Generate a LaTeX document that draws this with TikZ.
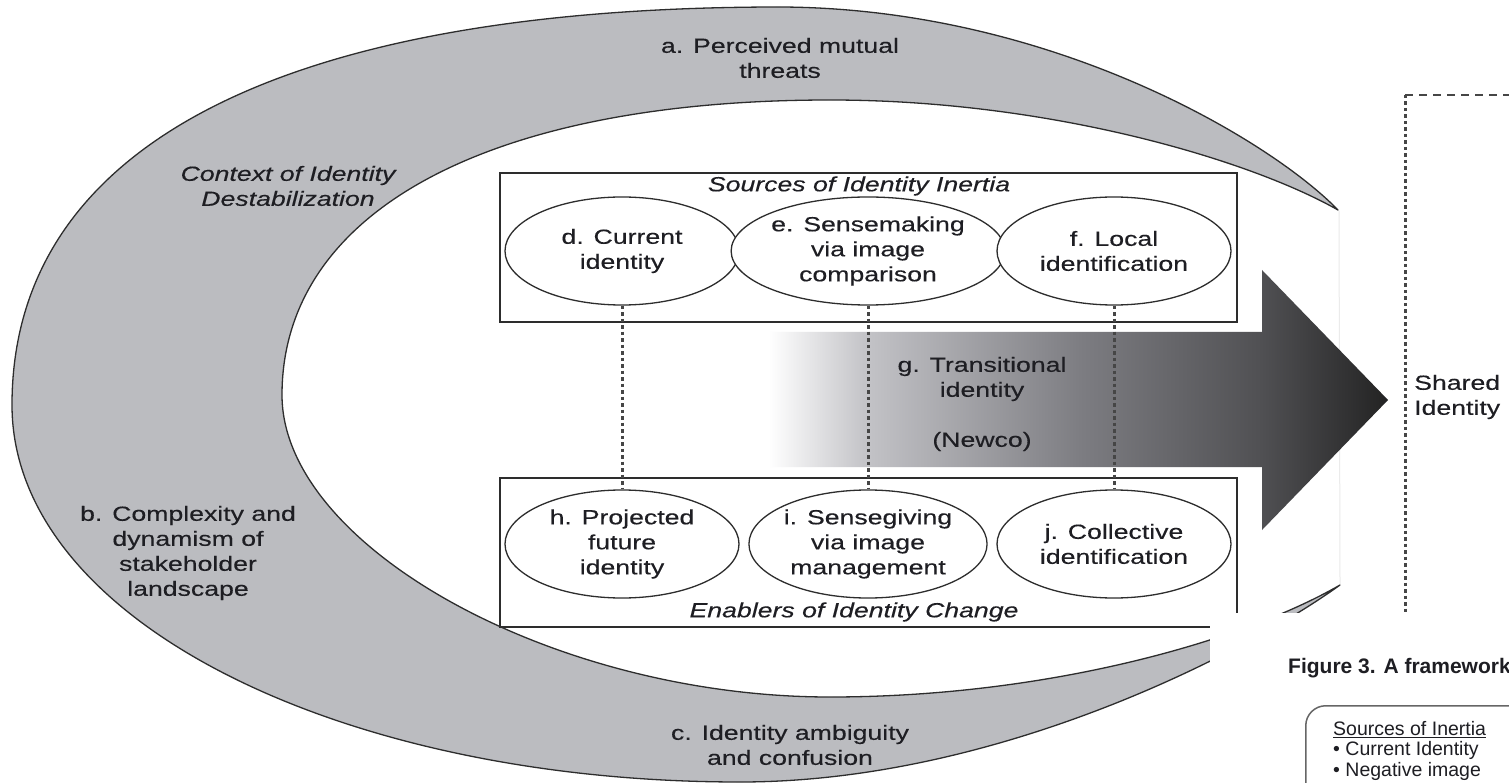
\documentclass[tikz,border=0pt]{standalone}
\usepackage{fontspec}
\setmainfont{Liberation Sans}[FakeStretch=1.3,FakeBold=0.3]
\newfontfamily\capfont{Liberation Sans}
\usetikzlibrary{shapes.geometric}
\definecolor{bandgray}{RGB}{187,188,192}
\definecolor{linec}{RGB}{45,45,45}
\definecolor{txt}{RGB}{30,30,35}
\definecolor{dotc}{RGB}{70,70,70}
\definecolor{agA}{RGB}{196,196,200}
\definecolor{agB}{RGB}{125,125,130}
\definecolor{agC}{RGB}{80,80,83}
\definecolor{agD}{RGB}{35,35,35}
\pgfdeclarehorizontalshading{arrowsh}{100bp}{color(0bp)=(white); color(30bp)=(white); color(36.9bp)=(agA); color(52.6bp)=(agB); color(65.8bp)=(agC); color(75bp)=(agD); color(100bp)=(agD)}
\begin{document}
\begin{tikzpicture}[x=1pt,y=-1pt,
  lbl/.style={text=txt, align=center, inner sep=0pt, font=\fontsize{20.5}{25}\selectfont},
  ilbl/.style={lbl, font=\fontsize{20.5}{25}\selectfont\itshape},
  ell/.style={ellipse, draw=linec, line width=1.3pt, fill=white, minimum width=234pt, minimum height=108pt, inner sep=0pt, text=txt, align=center, font=\fontsize{20.5}{25}\selectfont},
  framebox/.style={draw=linec, line width=1.6pt, fill=white, minimum width=737pt, minimum height=149pt, inner sep=0pt},
  dotline/.style={draw=dotc, line width=3pt, dash pattern=on 3.5pt off 3pt},
  dashline/.style={draw=dotc, line width=2.2pt, dash pattern=on 8pt off 6pt},
  crescent/.style={fill=bandgray, draw=linec, line width=1.3pt, line join=round},
  faint/.style={draw=black!8, line width=1pt},
  capbox/.style={draw=black!60, line width=1.5pt, rounded corners=20pt, minimum width=260pt, minimum height=120pt, inner sep=0pt},
  smalltxt/.style={text=txt, align=left, inner sep=0pt, font=\capfont\fontsize{19.5}{20.5}\selectfont}
]
\useasboundingbox (0,0) rectangle (1509,783);
\clip (0,0) rectangle (1509,783);
\fill[white] (0,0) rectangle (1509,783);

% crescent band
\path[crescent] (1338,210) .. controls (1270,140) and (1050,8) .. (780,7)
  .. controls (281,7) and (12,146) .. (12,405)
  .. controls (12,620) and (339,782) .. (740,782)
  .. controls (1000,782) and (1250,650) .. (1340,585)
  .. controls (1245,640) and (1050,697) .. (830,697)
  .. controls (553,697) and (282,546) .. (282,395)
  .. controls (282,212) and (487,100) .. (830,100)
  .. controls (1050,100) and (1250,160) .. (1338,210) -- cycle;

\coordinate (tipT) at (1339,211);
\coordinate (tipB) at (1340,584);
\draw[faint] (tipT) -- (tipB);

% boxes
\node[framebox] (topbox) at (868.5,247.5) {};
\node[framebox] (botbox) at (868.5,552.5) {};

% transition arrow
\shade[shading=arrowsh] (700,332) -- (1262,332) -- (1262,270) -- (1388,400) -- (1262,530) -- (1262,467) -- (700,467) -- cycle;

% ellipses
\node[ell] (d) at (622,251) {d. Current\\identity};
\node[ell] (e) at (868,251) {e. Sensemaking\\via image\\comparison};
\node[ell] (f) at (1114,251) {f. Local\\identification};
\node[ell] (h) at (622,544) {h. Projected\\future\\identity};
\node[ell] (i) at (868,544) {i. Sensegiving\\via image\\management};
\node[ell] (j) at (1114,544) {j. Collective\\identification};

\draw[dotline] (d.south) -- (h.north);
\draw[dotline] (e.south) -- (i.north);
\draw[dotline] (f.south) -- (j.north);

% labels
\node[ilbl] (srcl) at (859,186) {Sources of Identity Inertia};
\node[ilbl] (enbl) at (854,612) {Enablers of Identity Change};
\node[lbl] (g) at (982,404) {g. Transitional\\identity\\[25pt](Newco)};
\node[lbl] (a) at (780,58) {a. Perceived mutual\\threats};
\node[ilbl] (ctx) at (288,186) {Context of Identity\\Destabilization};
\node[lbl] (b) at (188,553) {b. Complexity and\\dynamism of\\stakeholder\\landscape};
\node[lbl] (c) at (790,745) {c. Identity ambiguity\\and confusion};
\node[lbl, align=left, anchor=west] (shared) at (1414,397) {Shared\\Identity};

% right dashed frame
\coordinate (fr0) at (1405,95);
\coordinate (fr1) at (1515,95);
\coordinate (fr2) at (1405,613);
\draw[dashline] (fr0) -- (fr1);
\draw[dotline] (fr0) -- (fr2);

% pasted lower-right region
\fill[white] (1210,613) rectangle (1509,790);
\node[anchor=west, text=txt, inner sep=0pt, font={\capfont\fontsize{21}{24}\selectfont\bfseries}] (fig) at (1288,668) {Figure 3. A framework};
\node[capbox, anchor=north west] (inbox) at (1305,705) {};
\node[smalltxt, anchor=north west] (inl) at (1333,721) {\underline{Sources of Inertia}\\\textbullet\ Current Identity\\\textbullet\ Negative image};
\end{tikzpicture}
\end{document}
